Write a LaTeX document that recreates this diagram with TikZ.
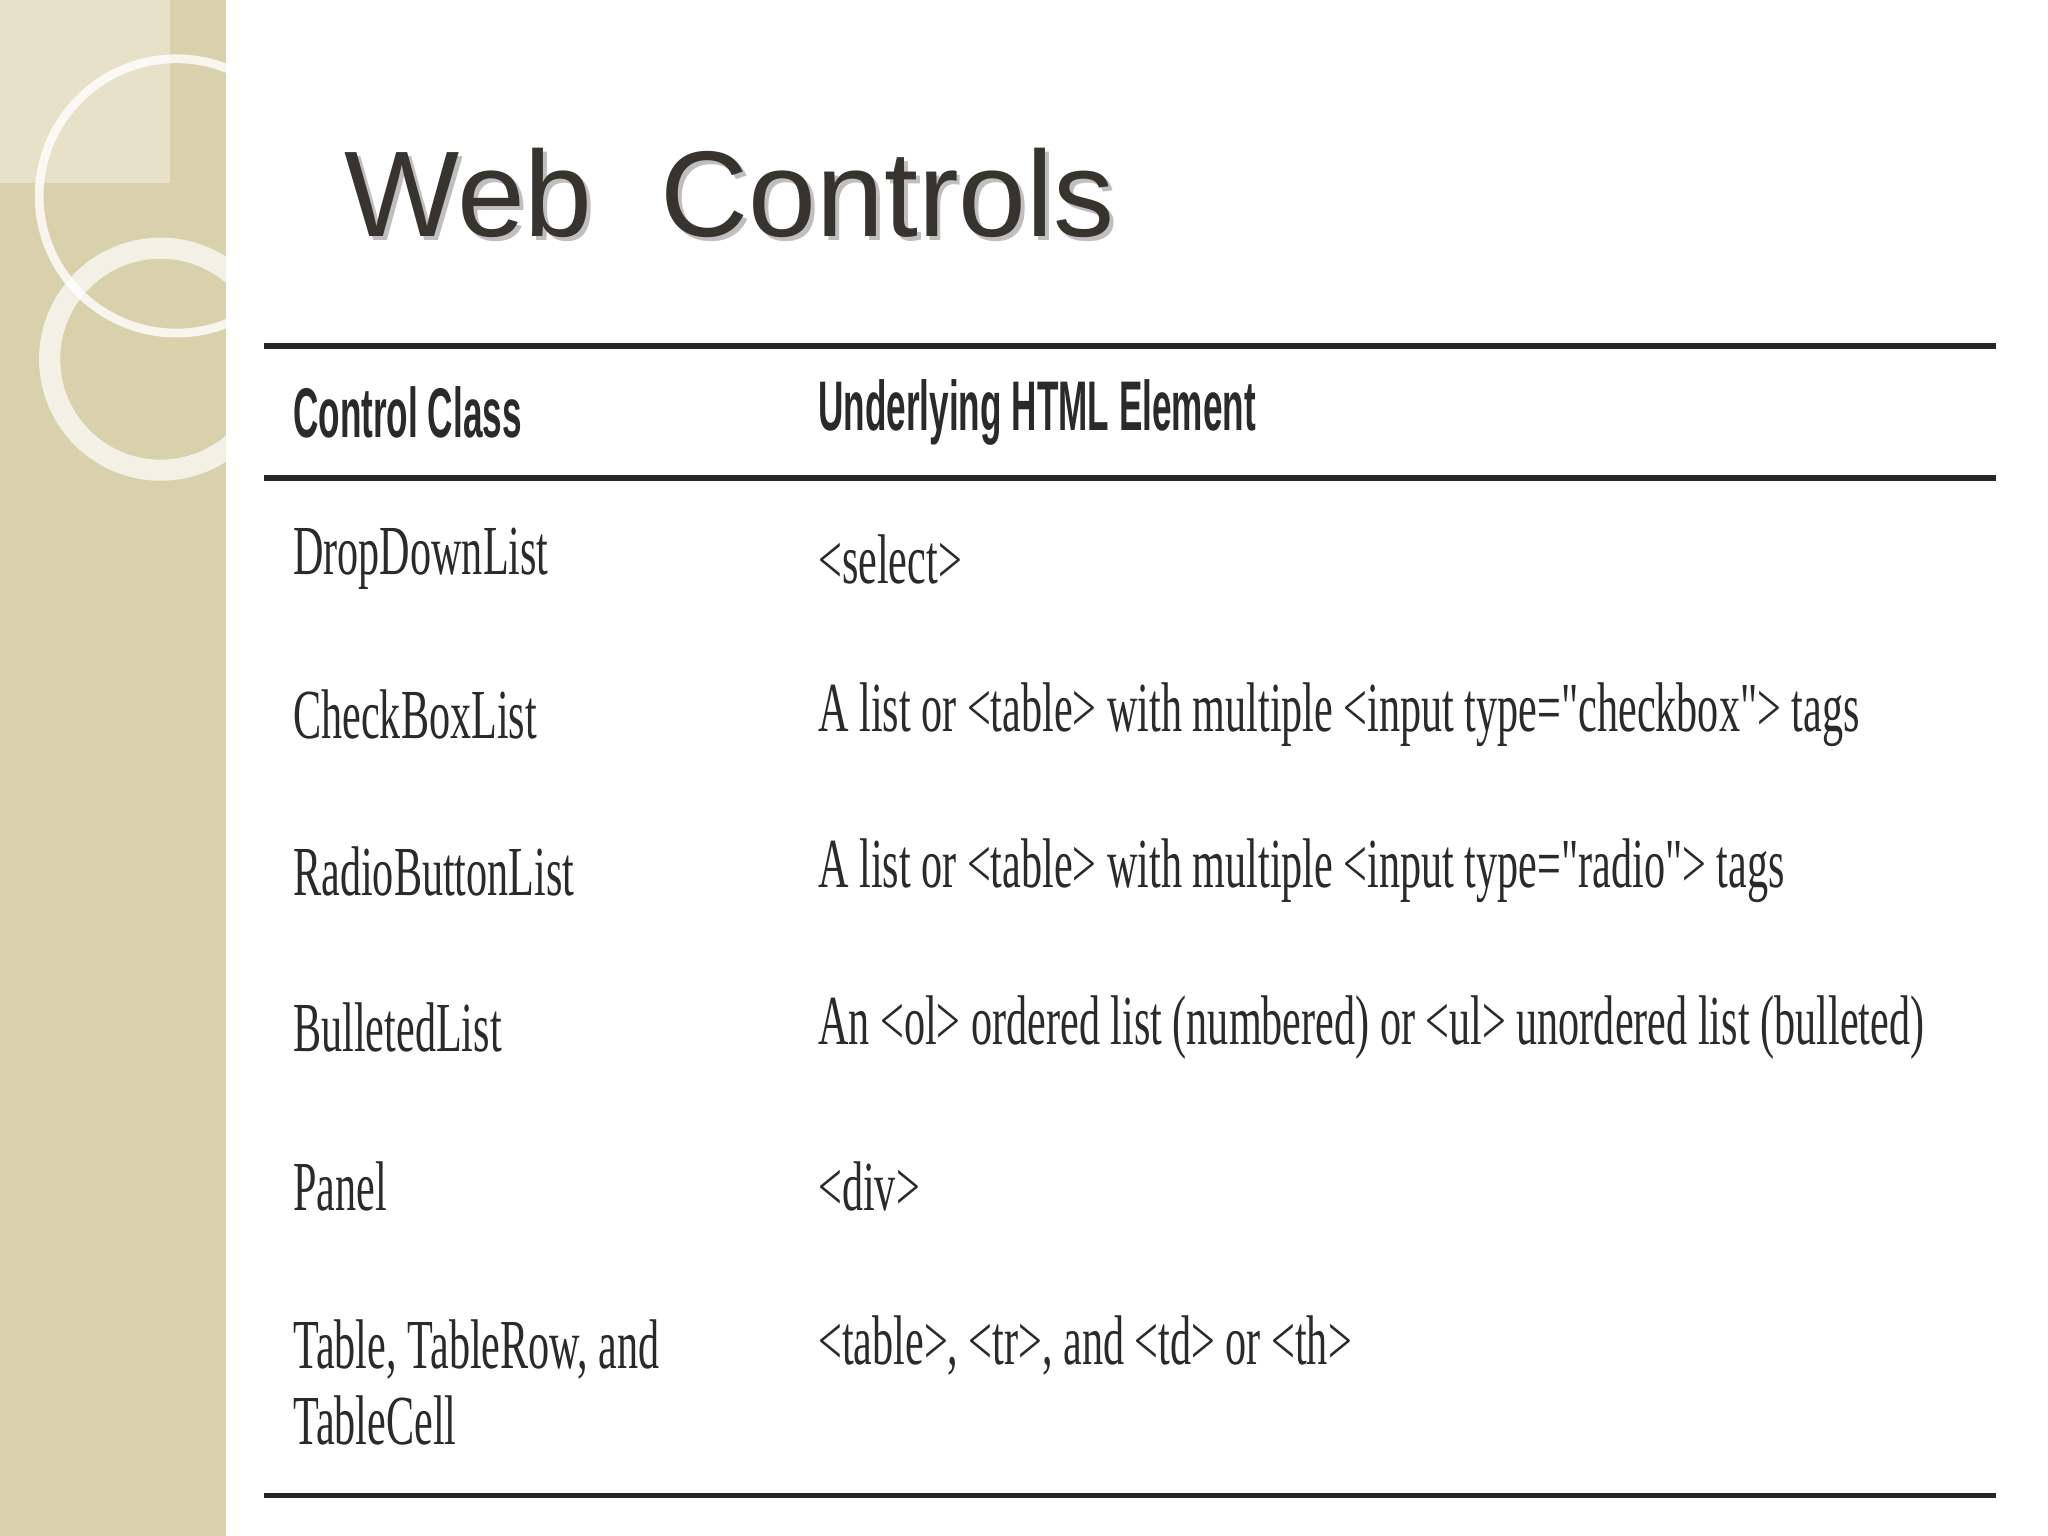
\documentclass[tikz,border=0pt]{standalone}
\usepackage{fontspec}
\setmainfont{Liberation Serif}
\newfontfamily\titlefont{Liberation Sans}
\newfontfamily\tblfont[FakeStretch=0.6]{Liberation Serif}
\newfontfamily\hdrfont[FakeStretch=0.5]{Liberation Sans}
\definecolor{strip}{HTML}{D9D1AC}
\definecolor{titlec}{HTML}{37332E}
\definecolor{txt}{HTML}{2A2A2A}
\tikzset{cell/.style={anchor=west,inner sep=0,font=\tblfont\fontsize{20}{21.5}\selectfont,text=txt,align=left},
hdr/.style={anchor=west,inner sep=0,font=\hdrfont\bfseries\fontsize{20}{24}\selectfont,text=txt},
rule/.style={line width=1.6pt,draw=black!85}}
\begin{document}
\begin{tikzpicture}[x=0.01306cm,y=-0.01306cm]
\useasboundingbox (0,0) rectangle (1568,1176);
\fill[white] (0,0) rectangle (1568,1176);
\fill[strip] (0,0) rectangle (173,1176);
\begin{scope}
\clip (0,0) rectangle (173,1176);
\fill[white,opacity=0.35] (0,0) rectangle (130,140);
\draw[white,opacity=0.8,line width=2.5pt] (135,150) circle (105);
\draw[white,opacity=0.7,line width=6pt] (123,275) circle (85);
\end{scope}
\node[anchor=west,inner sep=0,font=\titlefont\fontsize{34.7}{40}\selectfont,text=black!25] (ts) at (266,151) {Web\ \ Controls};
\node[anchor=west,inner sep=0,font=\titlefont\fontsize{34.7}{40}\selectfont,text=titlec] (t) at (263,148) {Web\ \ Controls};
\coordinate (l1a) at (202,265); \coordinate (l1b) at (1528,265);
\coordinate (l2a) at (202,366); \coordinate (l2b) at (1528,366);
\coordinate (l3a) at (202,1145); \coordinate (l3b) at (1528,1145);
\draw[rule] (l1a) -- (l1b);
\draw[rule] (l2a) -- (l2b);
\draw[rule] (l3a) -- (l3b);
\node[hdr] (h1) at (224,316) {Control Class};
\node[hdr] (h2) at (626,316) {Underlying HTML Element};
\node[cell] (a1) at (224,428) {DropDownList};
\node[cell] (b1) at (626,428) {<select>};
\node[cell] (a2) at (224,547) {CheckBoxList};
\node[cell] (b2) at (626,547) {A list or <table> with multiple <input type="checkbox"> tags};
\node[cell] (a3) at (224,667) {RadioButtonList};
\node[cell] (b3) at (626,667) {A list or <table> with multiple <input type="radio"> tags};
\node[cell] (a4) at (224,787) {BulletedList};
\node[cell] (b4) at (626,787) {An <ol> ordered list (numbered) or <ul> unordered list (bulleted)};
\node[cell] (a5) at (224,908) {Panel};
\node[cell] (b5) at (626,908) {<div>};
\node[cell,anchor=north west] (a6) at (224,1010) {Table, TableRow, and\\TableCell};
\node[cell] (b6) at (626,1030) {<table>, <tr>, and <td> or <th>};
\end{tikzpicture}
\end{document}
